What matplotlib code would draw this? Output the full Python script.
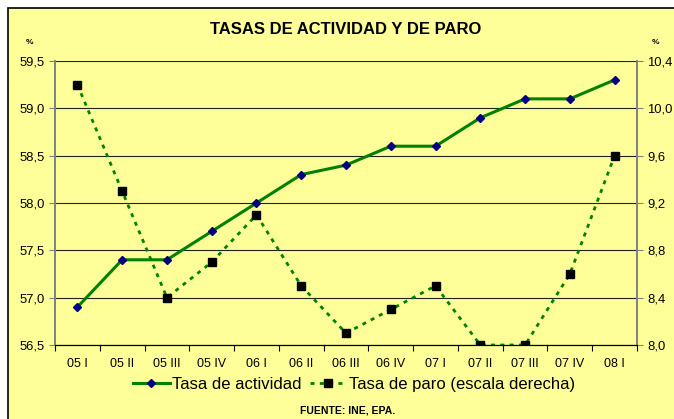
import numpy as np
import matplotlib
matplotlib.use('Agg')
import matplotlib.pyplot as plt
from matplotlib.patches import Rectangle
from matplotlib.lines import Line2D

plt.rcParams['font.family'] = ['Liberation Sans', 'DejaVu Sans']

quarters = ['05 I', '05 II', '05 III', '05 IV', '06 I', '06 II', '06 III',
            '06 IV', '07 I', '07 II', '07 III', '07 IV', '08 I']
actividad = [56.9, 57.4, 57.4, 57.7, 58.0, 58.3, 58.4, 58.6, 58.6, 58.9, 59.1, 59.1, 59.3]
paro = [10.2, 9.3, 8.4, 8.7, 9.1, 8.5, 8.1, 8.3, 8.5, 8.0, 8.0, 8.6, 9.6]
left_ticks = [56.5, 57.0, 57.5, 58.0, 58.5, 59.0, 59.5]
right_ticks = [8.0, 8.4, 8.8, 9.2, 9.6, 10.0, 10.4]

bg = '#FFFF99'
green = '#008000'
dash = (0, (1.45, 1.9))

fig = plt.figure(figsize=(6.74, 4.19), dpi=100)
fig.patch.set_facecolor('white')
fig.patches.append(Rectangle((8 / 674, -0.01), 1.0, 1 - 8 / 419 + 0.01,
                             transform=fig.transFigure, facecolor=bg,
                             edgecolor='black', linewidth=1.2, zorder=-10))

ax = fig.add_axes([55 / 674, 1 - 345 / 419, 582 / 674, 284 / 419])
ax.set_zorder(1)
ax.set_facecolor(bg)
ax2 = ax.twinx()
ax2.set_zorder(2)

x = np.arange(len(quarters))
ax.set_ylim(56.5, 59.5)
ax.set_xlim(-0.5, len(quarters) - 0.5)
ax.set_yticks(left_ticks)
ax.set_yticklabels([('%.1f' % t).replace('.', ',') for t in left_ticks])
ax.yaxis.grid(True, color='#202020', lw=0.8)
ax.set_axisbelow(True)

ax.set_xticks(np.arange(-0.5, len(quarters), 1.0))
ax.set_xticklabels([])
ax.set_xticks(x, minor=True)
ax.set_xticklabels(quarters, minor=True)
ax.tick_params(axis='x', which='minor', length=0, pad=9, labelsize=9)
ax.tick_params(axis='x', which='major', length=4, direction='out', color='black')
ax.tick_params(axis='y', length=4, direction='out', labelsize=9.4, color='#808080')

ax2.plot(x, paro, color=green, lw=2.0, linestyle=dash, marker='s', markersize=5.3,
         markerfacecolor='black', markeredgecolor='black', zorder=2)
ax2.plot(x, actividad, color=green, lw=2.2, marker='D', markersize=4.5,
         markerfacecolor='#000080', markeredgecolor='#000080', zorder=3,
         transform=ax.transData)
ax2.set_ylim(8.0, 10.4)
ax2.set_xlim(-0.5, len(quarters) - 0.5)
ax2.set_yticks(right_ticks)
ax2.set_yticklabels([('%.1f' % t).replace('.', ',') for t in right_ticks])
ax2.tick_params(axis='y', length=4, direction='out', labelsize=9.4, color='#808080')

for a in (ax, ax2):
    a.spines['top'].set_visible(False)
    a.spines['left'].set_color('#808080')
    a.spines['right'].set_color('#808080')
    a.spines['left'].set_linewidth(1.2)
    a.spines['right'].set_linewidth(1.2)
    a.spines['bottom'].set_color('black')

fig.text(0.513, 1 - 30 / 419, 'TASAS DE ACTIVIDAD Y DE PARO', ha='center',
         va='center', fontsize=12, fontweight='bold')
fig.text(29 / 674, 1 - 43 / 419, '%', ha='center', va='center', fontsize=6, fontweight='bold')
fig.text(655 / 674, 1 - 43 / 419, '%', ha='center', va='center', fontsize=6, fontweight='bold')
fig.text(348 / 674, 1 - 410 / 419, 'FUENTE: INE, EPA.', ha='center', va='center',
         fontsize=7.5, fontweight='bold')

h1 = Line2D([], [], color=green, lw=2.2, marker='D', markersize=4.5,
            markerfacecolor='#000080', markeredgecolor='#000080')
h2 = Line2D([], [], color=green, lw=2.0, linestyle=dash, marker='s',
            markersize=5.3, markerfacecolor='black', markeredgecolor='black')
fig.legend([h1, h2], ['Tasa de actividad', 'Tasa de paro (escala derecha)'],
           loc='center', bbox_to_anchor=(354 / 674, 1 - 384 / 419), ncol=2,
           frameon=False, fontsize=12, handlelength=2.2, handletextpad=0.15,
           columnspacing=0.5)

fig.savefig('out.png', dpi=100, facecolor=fig.get_facecolor())
